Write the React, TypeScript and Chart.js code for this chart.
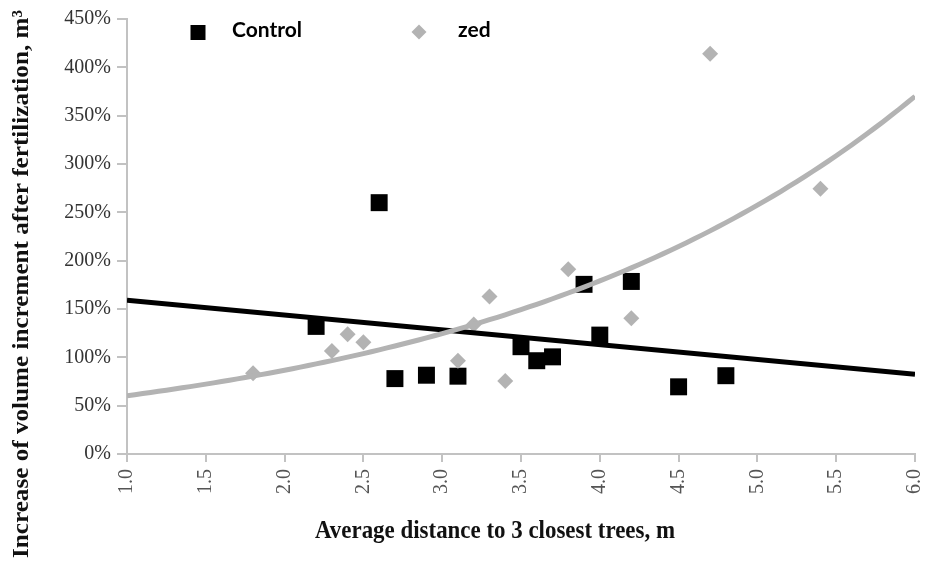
import { useEffect, useRef } from "react";
import { Chart, registerables } from "chart.js";

Chart.register(...registerables);

// Measured points: distance (m) vs. increase of volume increment (%)
const controlX = [2.2, 2.6, 2.7, 2.9, 3.1, 3.5, 3.6, 3.7, 3.9, 4.0, 4.2, 4.5, 4.8];
const controlY = [132, 260, 78, 81.5, 80.5, 111, 96.5, 100.5, 175.5, 123, 178.5, 69.5, 81];

const zedX = [1.8, 2.3, 2.4, 2.5, 3.1, 3.2, 3.3, 3.4, 3.8, 4.2, 4.7, 5.4];
const zedY = [83.5, 106.5, 124, 115.5, 96.5, 134, 163, 75.5, 191, 140.5, 414, 274.5];

// Axis ticks
const xTicks = [1.0, 1.5, 2.0, 2.5, 3.0, 3.5, 4.0, 4.5, 5.0, 5.5, 6.0];
const yTicks = [0, 50, 100, 150, 200, 250, 300, 350, 400, 450];

const seriesNames = ["Control", "zed"];
const xTitle = "Average distance to 3 closest trees, m";
const yTitle = "Increase of volume increment after fertilization, m\u00B3";

const BLACK = "#000000";
const GREY = "#b3b3b3";
const AXIS = "#c2c2c2";
const TICK_FONT = "'Liberation Serif', serif";

// Least-squares straight line y = a + b x
function linearFit(xs: number[], ys: number[]) {
  const n = xs.length;
  const mx = xs.reduce((s, v) => s + v, 0) / n;
  const my = ys.reduce((s, v) => s + v, 0) / n;
  let sxy = 0;
  let sxx = 0;
  for (let i = 0; i < n; i++) {
    sxy += (xs[i] - mx) * (ys[i] - my);
    sxx += (xs[i] - mx) * (xs[i] - mx);
  }
  const b = sxy / sxx;
  return { a: my - b * mx, b };
}

// Exponential trend y = A e^(k x), fitted on ln(y)
function expFit(xs: number[], ys: number[]) {
  const f = linearFit(xs, ys.map((v) => Math.log(v)));
  return { A: Math.exp(f.a), k: f.b };
}

function trendPoints(fn: (x: number) => number, from: number, to: number, steps: number) {
  const pts: { x: number; y: number }[] = [];
  for (let i = 0; i <= steps; i++) {
    const x = from + ((to - from) * i) / steps;
    pts.push({ x, y: fn(x) });
  }
  return pts;
}

function fittedText(
  ctx: CanvasRenderingContext2D,
  text: string,
  cx: number,
  cy: number,
  rot: number,
  font: string,
  length: number
) {
  ctx.save();
  ctx.font = font;
  const w = ctx.measureText(text).width;
  ctx.translate(cx, cy);
  ctx.rotate(rot);
  ctx.scale(length / w, 1);
  ctx.textAlign = "center";
  ctx.textBaseline = "alphabetic";
  ctx.fillStyle = "#111111";
  ctx.fillText(text, 0, 0);
  ctx.restore();
}

// Axis titles and the in-plot legend
const decorations = {
  id: "decorations",
  afterDraw(chart: Chart) {
    const ctx = chart.ctx;
    const area = chart.chartArea;

    fittedText(ctx, yTitle, 28, 284, -Math.PI / 2, "bold 23px 'Liberation Serif'", 548);
    fittedText(ctx, xTitle, 495, 538, 0, "bold 25px 'Liberation Serif'", 360);

    ctx.save();
    ctx.font = "bold 21px Lato";
    ctx.textBaseline = "alphabetic";
    ctx.textAlign = "left";
    ctx.fillStyle = BLACK;

    const lx1 = area.left + 71;
    ctx.fillRect(lx1 - 7.5, 25, 15, 15);
    ctx.fillText(seriesNames[0], area.left + 105, 37);

    const lx2 = area.left + 292;
    ctx.fillStyle = GREY;
    ctx.beginPath();
    ctx.moveTo(lx2, 24.5);
    ctx.lineTo(lx2 + 7.5, 32);
    ctx.lineTo(lx2, 39.5);
    ctx.lineTo(lx2 - 7.5, 32);
    ctx.closePath();
    ctx.fill();
    ctx.fillStyle = BLACK;
    ctx.fillText(seriesNames[1], area.left + 331, 37);
    ctx.restore();
  },
};

export default function App() {
  const canvasRef = useRef<HTMLCanvasElement | null>(null);

  useEffect(() => {
    const canvas = canvasRef.current;
    if (!canvas) return;

    const lin = linearFit(controlX, controlY);
    const ex = expFit(zedX, zedY);
    const xMin = xTicks[0];
    const xMax = xTicks[xTicks.length - 1];

    const tickFont = { family: TICK_FONT, size: 20, style: "normal" as const, weight: "normal" as const };

    const chart = new Chart(canvas, {
      type: "scatter",
      data: {
        datasets: [
          {
            label: "zed trend",
            data: trendPoints((x) => ex.A * Math.exp(ex.k * x), xMin, xMax, 100),
            showLine: true,
            borderColor: GREY,
            borderWidth: 5,
            pointRadius: 0,
            tension: 0,
            order: 0,
          },
          {
            label: "Control trend",
            data: trendPoints((x) => lin.a + lin.b * x, xMin, xMax, 1),
            showLine: true,
            borderColor: BLACK,
            borderWidth: 5,
            pointRadius: 0,
            order: 1,
          },
          {
            label: seriesNames[1],
            data: zedX.map((x, i) => ({ x, y: zedY[i] })),
            pointStyle: "rectRot",
            pointRadius: 8,
            backgroundColor: GREY,
            borderWidth: 0,
            order: 2,
          },
          {
            label: seriesNames[0],
            data: controlX.map((x, i) => ({ x, y: controlY[i] })),
            pointStyle: "rect",
            pointRadius: 12,
            backgroundColor: BLACK,
            borderWidth: 0,
            order: 3,
          },
        ],
      },
      options: {
        animation: false,
        responsive: false,
        devicePixelRatio: 1,
        layout: { padding: { top: 19, right: 8, left: 0, bottom: 0 } },
        plugins: {
          legend: { display: false },
          tooltip: { enabled: false },
        },
        scales: {
          x: {
            type: "linear",
            min: xMin,
            max: xMax,
            afterBuildTicks: (scale: any) => {
              scale.ticks = xTicks.map((value) => ({ value }));
            },
            afterFit: (scale: any) => {
              scale.height = 109;
              scale.paddingLeft = 0;
              scale.paddingRight = 0;
            },
            grid: {
              display: true,
              drawOnChartArea: false,
              drawTicks: true,
              tickLength: 8,
              color: AXIS,
              lineWidth: 2,
            },
            border: { display: true, color: AXIS, width: 2 },
            ticks: {
              autoSkip: false,
              maxRotation: 90,
              minRotation: 90,
              padding: 7,
              color: "#555555",
              font: tickFont,
              callback: (v: any) => Number(v).toFixed(1),
            },
          },
          y: {
            type: "linear",
            min: yTicks[0],
            max: yTicks[yTicks.length - 1],
            afterBuildTicks: (scale: any) => {
              scale.ticks = yTicks.map((value) => ({ value }));
            },
            afterFit: (scale: any) => {
              scale.width = 127;
              scale.paddingTop = 0;
              scale.paddingBottom = 0;
            },
            grid: {
              display: true,
              drawOnChartArea: false,
              drawTicks: true,
              tickLength: 10,
              color: AXIS,
              lineWidth: 2,
            },
            border: { display: true, color: AXIS, width: 2 },
            ticks: {
              autoSkip: false,
              padding: 6,
              color: "#333333",
              font: tickFont,
              callback: (v: any) => `${v}%`,
            },
          },
        },
      },
      plugins: [decorations],
    });

    return () => chart.destroy();
  }, []);

  return (
    <div style={{ position: "absolute", left: 0, top: 0, width: 927, height: 563, background: "#ffffff" }}>
      <canvas ref={canvasRef} width={927} height={563} style={{ display: "block" }} />
    </div>
  );
}
